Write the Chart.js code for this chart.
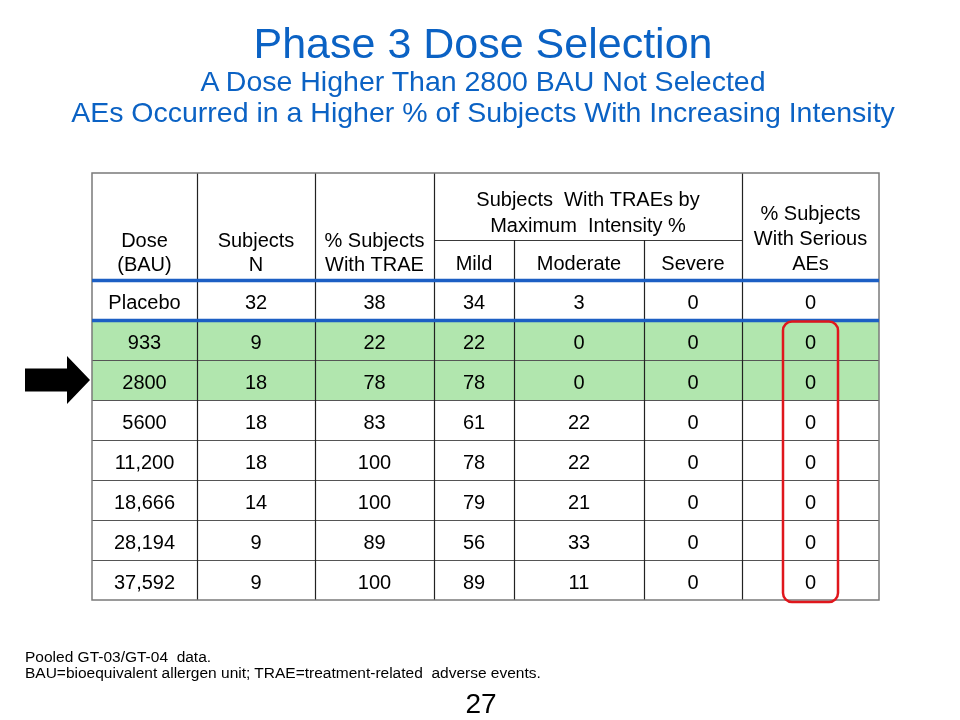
<!DOCTYPE html>
<html>
<head>
<meta charset="utf-8">
<script src="https://cdn.jsdelivr.net/npm/chart.js@4.4.0/dist/chart.umd.min.js"></script>
<style>
    body { margin: 0; background: #fff; font-family: "Liberation Sans", Arial, sans-serif; }
    #slide { position: relative; width: 960px; height: 720px; overflow: hidden; background: #fff; }
    #table-chart { position: absolute; left: 0; top: 0; }
    .title { position: absolute; left: 0; width: 966px; text-align: center; color: #0b62c4; white-space: nowrap; }
    #t1 { top: 21px; font-size: 43px; line-height: 44px; }
    #t2 { top: 66px; font-size: 28.5px; line-height: 31px; }
    #t3 { top: 97px; font-size: 28.5px; line-height: 31px; }
    #notes { position: absolute; left: 25px; top: 649px; font-size: 15.5px; line-height: 16px; color: #000; white-space: nowrap; }
    #page { position: absolute; left: 0; width: 962px; top: 688px; text-align: center; font-size: 28px; line-height: 32px; color: #000; }
</style>
</head>
<body>
<div id="slide">
    <canvas id="table-chart" width="960" height="720"></canvas>
    <div class="title" id="t1">Phase 3 Dose Selection</div>
    <div class="title" id="t2">A Dose Higher Than 2800 BAU Not Selected</div>
    <div class="title" id="t3">AEs Occurred in a Higher % of Subjects With Increasing Intensity</div>
    <div id="notes">Pooled GT-03/GT-04&nbsp; data.<br>BAU=bioequivalent allergen unit; TRAE=treatment-related&nbsp; adverse events.</div>
    <div id="page">27</div>
</div>
<script>
// table values
const doses = ['Placebo', '933', '2800', '5600', '11,200', '18,666', '28,194', '37,592'];
const subjectsN = [32, 9, 18, 18, 18, 14, 9, 9];
const pctTRAE = [38, 22, 78, 83, 100, 100, 89, 100];
const mildPct = [34, 22, 78, 61, 78, 79, 56, 89];
const moderatePct = [3, 0, 0, 22, 22, 21, 33, 11];
const severePct = [0, 0, 0, 0, 0, 0, 0, 0];
const seriousPct = [0, 0, 0, 0, 0, 0, 0, 0];
const selectedDoses = ['933', '2800'];
const arrowDose = '2800';

// header labels
const headDose = ['Dose', '(BAU)'];
const headN = ['Subjects', 'N'];
const headTRAE = ['% Subjects', 'With TRAE'];
const headIntensity = ['Subjects  With TRAEs by', 'Maximum  Intensity %'];
const headIntensityCols = ['Mild', 'Moderate', 'Severe'];
const headSerious = ['% Subjects', 'With Serious', 'AEs'];

const columns = [doses, subjectsN, pctTRAE, mildPct, moderatePct, severePct, seriousPct];

// layout: column edges (px from table left), header rows in row units
const colEdges = [0, 105, 223, 342, 422, 552, 650, 787];
const headerTop = -2.675;
const colCenter = j => (colEdges[j] + colEdges[j + 1]) / 2;

const GREEN = '#b1e6ae';
const BLUE = '#1c5fc4';
const LINE = '#3a3a3a';
const FONT = '"Liberation Sans", Arial, sans-serif';

const tablePlugin = {
    id: 'tableDraw',
    beforeDatasetsDraw(chart) {
        const { ctx, scales: { x, y } } = chart;
        const left = x.getPixelForValue(0), right = x.getPixelForValue(colEdges[7]);
        const top = y.getPixelForValue(headerTop), bottom = y.getPixelForValue(doses.length);
        ctx.save();

        // highlighted rows
        ctx.fillStyle = GREEN;
        doses.forEach((d, i) => {
            if (selectedDoses.includes(d)) {
                const y0 = y.getPixelForValue(i), y1 = y.getPixelForValue(i + 1);
                ctx.fillRect(left, y0, right - left, y1 - y0);
            }
        });

        // row lines
        ctx.strokeStyle = '#555';
        ctx.lineWidth = 1.2;
        for (let i = 2; i < doses.length; i++) {
            const yy = Math.round(y.getPixelForValue(i)) + 0.5;
            ctx.beginPath(); ctx.moveTo(left, yy); ctx.lineTo(right, yy); ctx.stroke();
        }
        // sub header line
        ctx.strokeStyle = LINE;
        const ys = Math.round(y.getPixelForValue(-1)) + 0.5;
        ctx.beginPath(); ctx.moveTo(x.getPixelForValue(colEdges[3]), ys); ctx.lineTo(x.getPixelForValue(colEdges[6]), ys); ctx.stroke();

        // column lines
        ctx.strokeStyle = '#222';
        for (let j = 1; j < colEdges.length - 1; j++) {
            const xx = Math.round(x.getPixelForValue(colEdges[j])) + 0.5;
            const yStart = (j === 4 || j === 5) ? y.getPixelForValue(-1) : top;
            ctx.beginPath(); ctx.moveTo(xx, yStart); ctx.lineTo(xx, bottom); ctx.stroke();
        }

        // outer border
        ctx.strokeStyle = '#7a7a7a';
        ctx.lineWidth = 1.5;
        ctx.strokeRect(left, top, right - left, bottom - top);

        // blue separators
        ctx.strokeStyle = BLUE;
        ctx.lineWidth = 3.5;
        [0, 1].forEach(i => {
            const yy = y.getPixelForValue(i) + 0.5;
            ctx.beginPath(); ctx.moveTo(left, yy); ctx.lineTo(right, yy); ctx.stroke();
        });
        ctx.restore();
    },
    afterDatasetsDraw(chart) {
        const { ctx, scales: { x, y } } = chart;
        ctx.save();
        ctx.fillStyle = '#000';
        ctx.font = '20px ' + FONT;
        ctx.textAlign = 'center';
        ctx.textBaseline = 'middle';

        const put = (txt, cx, cy) => ctx.fillText(txt, x.getPixelForValue(cx), y.getPixelForValue(cy) + 1.5);

        // header
        headDose.forEach((t, k) => put(t, colCenter(0), -1.0 + k * 0.6));
        headN.forEach((t, k) => put(t, colCenter(1), -1.0 + k * 0.6));
        headTRAE.forEach((t, k) => put(t, colCenter(2), -1.0 + k * 0.6));
        headIntensity.forEach((t, k) => put(t, (colEdges[3] + colEdges[6]) / 2, -2.025 + k * 0.65));
        headIntensityCols.forEach((t, k) => put(t, colCenter(3 + k), -0.43));
        headSerious.forEach((t, k) => put(t, colCenter(6), -1.675 + k * 0.62));

        // body cells, positioned by the dataset points
        chart.data.datasets.forEach((ds, j) => {
            const meta = chart.getDatasetMeta(j);
            meta.data.forEach((pt, i) => {
                ctx.fillText(String(columns[j][i]), pt.x, pt.y + 3);
            });
        });

        // arrow pointing at the selected dose
        const ai = doses.indexOf(arrowDose);
        const ay = y.getPixelForValue(ai + 0.5);
        const tip = x.getPixelForValue(-2);
        const tail = x.getPixelForValue(-67);
        const neck = x.getPixelForValue(-25);
        ctx.fillStyle = '#000';
        ctx.beginPath();
        ctx.moveTo(tail, ay - 11.5);
        ctx.lineTo(neck, ay - 11.5);
        ctx.lineTo(neck, ay - 24);
        ctx.lineTo(tip, ay);
        ctx.lineTo(neck, ay + 24);
        ctx.lineTo(neck, ay + 11.5);
        ctx.lineTo(tail, ay + 11.5);
        ctx.closePath();
        ctx.fill();

        // red outline around serious AE column (dosed rows)
        const cx = x.getPixelForValue(colCenter(6));
        const ry0 = y.getPixelForValue(1) + 1.5, ry1 = y.getPixelForValue(doses.length) + 2;
        ctx.strokeStyle = '#e0161c';
        ctx.lineWidth = 2.5;
        ctx.beginPath();
        ctx.roundRect(cx - 27.5, ry0, 55, ry1 - ry0, 9);
        ctx.stroke();
        ctx.restore();
    }
};

const datasets = columns.map((col, j) => ({
    label: 'col' + j,
    data: col.map((v, i) => ({ x: colCenter(j), y: i + 0.5 })),
    pointRadius: 0,
    pointHoverRadius: 0
}));

new Chart(document.getElementById('table-chart'), {
    type: 'scatter',
    data: { datasets: datasets },
    options: {
        responsive: false,
        animation: false,
        devicePixelRatio: 1,
        layout: { padding: { left: 92, right: 81, top: 173, bottom: 120 } },
        plugins: { legend: { display: false }, tooltip: { enabled: false } },
        scales: {
            x: { type: 'linear', display: false, min: 0, max: colEdges[7] },
            y: { type: 'linear', display: false, reverse: true, min: headerTop, max: doses.length }
        }
    },
    plugins: [tablePlugin]
});
</script>
</body>
</html>
